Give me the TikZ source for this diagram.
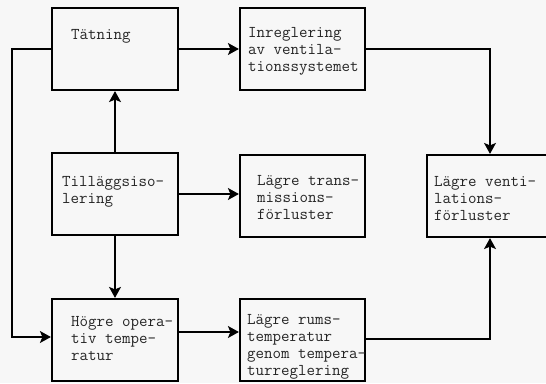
\documentclass[tikz,border=0pt]{standalone}
\usetikzlibrary{arrows.meta}

\begin{document}
\begin{tikzpicture}[x=1pt,y=-1pt,
    box/.style={draw,line width=2.2pt,minimum width=126pt,minimum height=82pt,inner sep=0pt},
    txt/.style={anchor=north west,align=left,inner sep=0pt,font=\ttfamily\fontsize{16.5}{17}\selectfont,text=black!85},
    conn/.style={line width=1.5pt,-{Stealth[length=11pt,width=12pt,inset=2.5pt]}}]
  \fill[black!3] (0,0) rectangle (546,383);
  \useasboundingbox (0,0) rectangle (546,383);
  \coordinate (lft) at (12,190);

  \node[box] (taet) at (115,49) {};
  \node[box,minimum width=125pt] (inre) at (302.5,49) {};
  \node[box] (tillagg) at (115,194) {};
  \node[box,minimum width=125pt] (trans) at (302.5,196) {};
  \node[box] (venti) at (490,196) {};
  \node[box] (hogre) at (115,340) {};
  \node[box,minimum width=125pt] (rums) at (302.5,340) {};

  \node[txt] (taet-t) at ([xshift=20pt,yshift=-22pt]taet.north west) {Tätning};
  \node[txt] (inre-t) at ([xshift=9pt,yshift=-20pt]inre.north west) {Inreglering\\av ventila-\\tionssystemet};
  \node[txt] (tillagg-t) at ([xshift=11pt,yshift=-24pt]tillagg.north west) {Tilläggsiso-\\lering};
  \node[txt] (trans-t) at ([xshift=18pt,yshift=-21pt]trans.north west) {Lägre trans-\\missions-\\förluster};
  \node[txt] (venti-t) at ([xshift=8pt,yshift=-22pt]venti.north west) {Lägre venti-\\lations-\\förluster};
  \node[txt] (hogre-t) at ([xshift=20pt,yshift=-18pt]hogre.north west) {Högre opera-\\tiv tempe-\\ratur};
  \node[txt] (rums-t) at ([xshift=8pt,yshift=-16pt]rums.north west) {Lägre rums-\\temperatur\\genom tempera-\\turreglering};

  \draw[conn] (taet) -- (inre);
  \draw[conn] (inre) -| (venti);
  \draw[conn] (tillagg) -- (taet);
  \draw[conn] (tillagg) -- (hogre);
  \draw[conn] (tillagg.east) -- (trans.west |- tillagg.east);
  \draw[conn] (taet.west) -- (lft |- taet.west) |- ([yshift=3pt]hogre.west);
  \draw[conn] ([yshift=8pt]hogre.east) -- ([yshift=8pt]rums.west);
  \draw[conn] ([yshift=1pt]rums.east) -| (venti);
\end{tikzpicture}
\end{document}
